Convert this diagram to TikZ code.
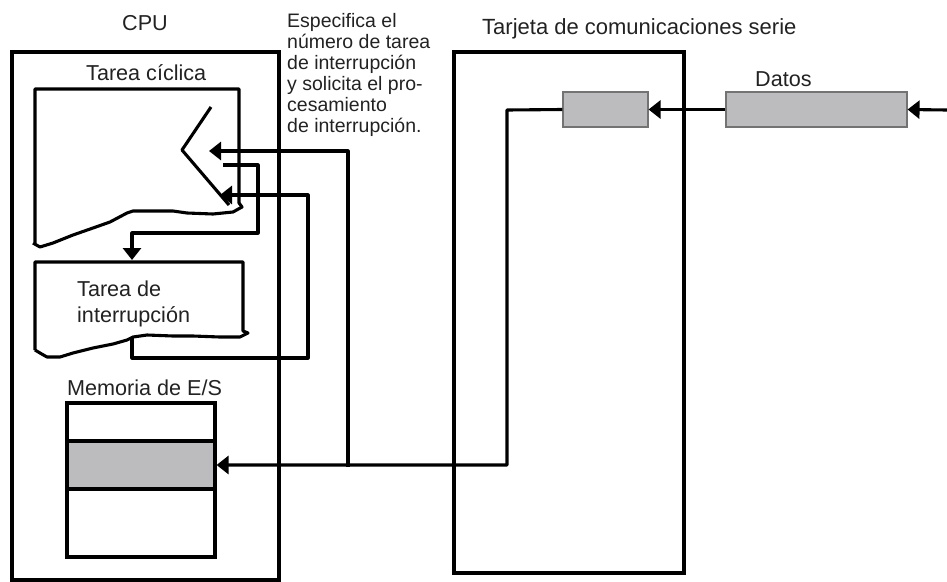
\documentclass[tikz,border=0pt]{standalone}
\usepackage{fontspec}
\setmainfont{Liberation Sans}
\usetikzlibrary{arrows.meta}
\definecolor{bufgray}{RGB}{188,188,191}
\definecolor{inkgray}{RGB}{34,34,34}
\begin{document}
\begin{tikzpicture}[x=1pt,y=-1pt,
    wire/.style={line width=3.1pt,line join=round},
    flow/.style={wire,-{Triangle[length=12pt,width=18pt]}},
    txt/.style={anchor=base west,inner sep=0pt,text=inkgray,font=\fontsize{21.6}{26}\selectfont},
    note/.style={txt,align=left,font=\fontsize{19.5}{21}\selectfont},
    frame/.style={draw,line width=3.1pt,inner sep=0pt},
    buffer/.style={draw=black!55,line width=1.1pt,fill=bufgray,inner sep=0pt,minimum height=35pt}]
    \useasboundingbox (0,0) rectangle (947,581);
    % outer units
    \node[frame,minimum width=267pt,minimum height=528pt] (cpu) at (145.5,316) {};
    \node[frame,minimum width=230pt,minimum height=521pt] (card) at (569,312.5) {};
    % labels (base = last line)
    \node[txt] (cpulbl) at (122,30) {CPU};
    \node[txt,font=\fontsize{22}{26}\selectfont] (cardlbl) at (482,34) {Tarjeta de comunicaciones serie};
    \node[note] (reqlbl) at (287,132) {Especifica el\\número de tarea\\de interrupción\\y solicita el pro-\\cesamiento\\de interrupción.};
    \node[txt] (cyclbl) at (86,80) {Tarea cíclica};
    \node[txt,align=left] (intlbl) at (77,322) {Tarea de\\interrupción};
    \node[txt] (memlbl) at (67,395) {Memoria de E/S};
    \node[txt] (datlbl) at (755,86) {Datos};
    % cyclic task (torn sheet)
    \draw[wire] (35,243) -- (35,89) -- (239,89) -- (239,203) -- (242,207) -- (233,212)
        -- (213,214) -- (187,213) -- (173,211) -- (133,211) -- (127,213) -- (110,222)
        -- (93,228) -- (73,235) -- (53,243) -- (40,247) -- (33,243);
    \draw[wire] (211,107) -- (182,150) -- (229,205);
    % interrupt task (torn sheet)
    \draw[wire] (35,350) -- (35,262) -- (243,262) -- (243,331) -- (248,333) -- (240,337)
        -- (220,337) -- (193,336) -- (173,336) -- (147,335) -- (133,337) -- (127,340)
        -- (113,344) -- (93,348) -- (73,353) -- (60,357) -- (47,357) -- (40,353) -- (35,350);
    % I/O memory
    \node[frame,minimum width=148pt,minimum height=154pt] (mem) at (141,480) {};
    \node[frame,fill=bufgray,minimum width=148pt,minimum height=48pt] (slot) at (141,465) {};
    % receive path
    \node[buffer,minimum width=85pt] (rxbuf) at (605.5,109.5) {};
    \node[buffer,minimum width=181pt] (frame) at (816.5,109.5) {};
    \coordinate (inlet) at (947,110);
    \coordinate (drop) at (507,110);
    \coordinate (tap) at (348,467);
    \coordinate (req) at (209,151);
    \coordinate (call) at (223,165);
    \coordinate (callR) at (258,233);
    \coordinate (itop) at (132,260);
    \coordinate (ret) at (132,337);
    \coordinate (retR) at (308,358);
    \coordinate (back) at (220,195);
    \draw[flow] (inlet) -- (frame.east);
    \draw[flow] (frame.west) -- (rxbuf.east);
    \draw[flow] (rxbuf.west) -- (drop) |- (slot.east);
    \draw[flow] (tap) |- (req);
    \draw[flow] (call) -| (callR) -| (itop);
    \draw[flow] (ret) |- (retR) |- (back);
\end{tikzpicture}
\end{document}
